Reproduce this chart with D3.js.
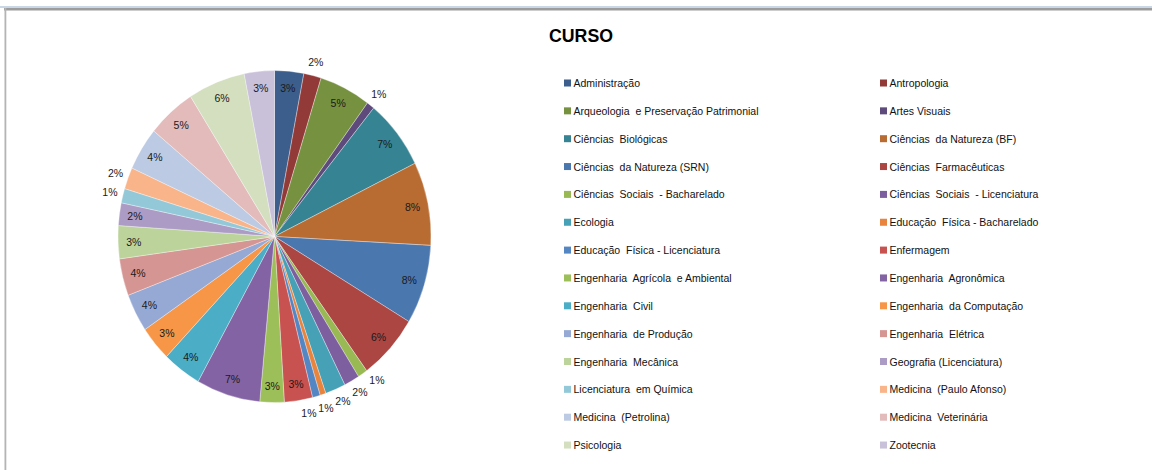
<!DOCTYPE html>
<html>
<head>
<meta charset="utf-8">
<script src="https://cdn.jsdelivr.net/npm/d3@7"></script>
<style>
  html, body { margin: 0; padding: 0; background: #fff; }
  svg { display: block; }
</style>
</head>
<body>
<svg id="chart" width="1152" height="470"></svg>
<script>
// ---------- data ----------
const categories = [
  "Administração", "Antropologia", "Arqueologia  e Preservação Patrimonial", "Artes Visuais",
  "Ciências  Biológicas", "Ciências  da Natureza (BF)", "Ciências  da Natureza (SRN)", "Ciências  Farmacêuticas",
  "Ciências  Sociais  - Bacharelado", "Ciências  Sociais  - Licenciatura", "Ecologia", "Educação  Física - Bacharelado",
  "Educação  Física - Licenciatura", "Enfermagem", "Engenharia  Agrícola  e Ambiental", "Engenharia  Agronômica",
  "Engenharia  Civil", "Engenharia  da Computação", "Engenharia  de Produção", "Engenharia  Elétrica",
  "Engenharia  Mecânica", "Geografia (Licenciatura)", "Licenciatura  em Química", "Medicina  (Paulo Afonso)",
  "Medicina  (Petrolina)", "Medicina  Veterinária", "Psicologia", "Zootecnia"
];
const values = [
  3.0, 1.8, 5.3, 0.8,
  6.8, 8.1, 7.7, 6.4,
  1.0, 1.6, 2.1, 0.6,
  0.8, 2.9, 2.5, 6.6,
  4.0, 3.4, 3.7, 3.6,
  3.2, 2.2, 1.4, 2.1,
  4.2, 5.0, 5.9, 3.1
];
const colors = [
  "#3B5E8C", "#923A38", "#76913F", "#5E4A7B",
  "#368493", "#B96C31", "#4A77AE", "#AB4643",
  "#98B954", "#7D5E9E", "#46A1B6", "#E8843E",
  "#5486C4", "#C85250", "#9CBF59", "#8363A4",
  "#4BADC6", "#F79646", "#95A9D4", "#D59593",
  "#BCD49B", "#AC9BC4", "#93C8D8", "#F9B48A",
  "#BCCAE3", "#E3BBBB", "#D3DFBF", "#C9C0DA"
];
const title = "CURSO";

// ---------- layout ----------
const svg = d3.select("#chart");
const W = 1152, H = 470;
const cx = 274.5, cy = 236.5, R = 156.5, ky = 166 / 156.5;
const FONT = "'Liberation Sans', Arial, sans-serif";

// frame (spreadsheet chrome)
svg.append("rect").attr("x", 0).attr("y", 6).attr("width", W).attr("height", 2).attr("fill", "#c9d6e6");
svg.append("rect").attr("x", 4).attr("y", 8).attr("width", W - 4).attr("height", 2.5).attr("fill", "#9c9c9c");
svg.append("rect").attr("x", 4.5).attr("y", 8).attr("width", 1.8).attr("height", H - 8).attr("fill", "#b4b4b4");

// title
svg.append("text")
  .attr("x", 581).attr("y", 42)
  .attr("text-anchor", "middle")
  .attr("font-family", FONT).attr("font-weight", "bold").attr("font-size", 19)
  .attr("textLength", 64).attr("lengthAdjust", "spacingAndGlyphs")
  .attr("fill", "#000")
  .text(title);

// pie
const total = d3.sum(values);
const pie = d3.pie().sort(null).value(d => d)(values);
const arc = d3.arc().innerRadius(0).outerRadius(R);

const gPie = svg.append("g").attr("transform", `translate(${cx},${cy}) scale(1,${ky})`);
gPie.selectAll("path").data(pie).join("path")
  .attr("d", arc)
  .attr("fill", (d, i) => colors[i])
  .attr("stroke", "#ffffff").attr("stroke-opacity", 0.55).attr("stroke-width", 0.6);

// labels
const labels = pie.map((d, i) => {
  const a = (d.startAngle + d.endAngle) / 2;
  const inside = d.value >= 2.15;
  const f = inside ? 0.9 : 1.085;
  return {
    text: Math.round(d.value / total * 100) + "%",
    a, inside,
    x: cx + Math.sin(a) * R * f,
    y: cy - Math.cos(a) * R * ky * f
  };
});
// resolve overlap of outside labels along tangent
const out = labels.filter(l => !l.inside);
const lw = 17, lh = 12;
for (let it = 0; it < 60; it++) {
  for (let i = 0; i < out.length; i++) {
    for (let j = i + 1; j < out.length; j++) {
      const A = out[i], B = out[j];
      const dx = B.x - A.x, dy = B.y - A.y;
      const ox = lw - Math.abs(dx), oy = lh - Math.abs(dy);
      if (ox > 0 && oy > 0) {
        const tA = [Math.cos(A.a), Math.sin(A.a) * ky];
        const tB = [Math.cos(B.a), Math.sin(B.a) * ky];
        const s = Math.min(ox, oy) * 0.25;
        A.x -= tA[0] * s; A.y -= tA[1] * s;
        B.x += tB[0] * s; B.y += tB[1] * s;
      }
    }
  }
}
svg.append("g").selectAll("text").data(labels).join("text")
  .attr("x", d => d.x).attr("y", d => d.y)
  .attr("text-anchor", "middle").attr("dominant-baseline", "central")
  .attr("font-family", FONT).attr("font-size", 10.5)
  .attr("fill", "#1a1a1a")
  .text(d => d.text);

// legend
const legX = [564, 880], legY0 = 83, legStep = 27.85;
const leg = svg.append("g").selectAll("g").data(categories).join("g")
  .attr("transform", (d, i) => `translate(${legX[i % 2]},${legY0 + Math.floor(i / 2) * legStep})`);
leg.append("rect").attr("x", 0).attr("y", -3.5).attr("width", 7).attr("height", 7)
  .attr("fill", (d, i) => colors[i]);
leg.append("text").attr("x", 9.5).attr("y", 0).attr("dominant-baseline", "central")
  .attr("font-family", FONT).attr("font-size", 10.5).attr("fill", "#111")
  .attr("xml:space", "preserve").style("white-space", "pre")
  .text(d => d);
</script>
</body>
</html>
